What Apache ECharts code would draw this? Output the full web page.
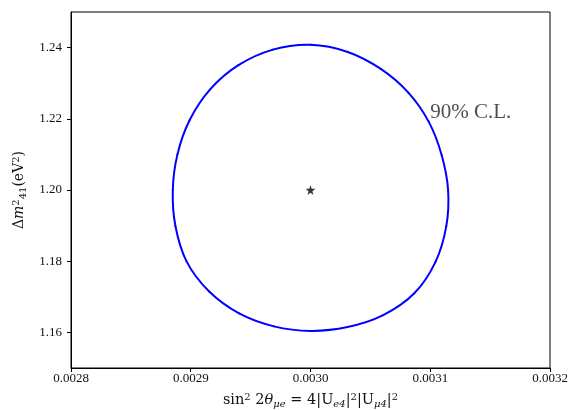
<!DOCTYPE html>
<html>
<head>
<meta charset="utf-8">
<script src="https://cdn.jsdelivr.net/npm/echarts@6/dist/echarts.min.js"></script>
<style>html,body{margin:0;padding:0;background:#fff;}#c{width:574px;height:410px;}</style>
</head>
<body>
<div id="c"></div>
<script>
// 90% C.L. contour, going round from the top
var contourX = [0.0030001, 0.0030311, 0.0030587, 0.0030817, 0.0030988, 0.0031095, 0.0031149, 0.0031134,
  0.0031044, 0.0030867, 0.0030607, 0.0030309, 0.0030001, 0.0029695, 0.0029404, 0.0029152,
  0.0028965, 0.0028872, 0.0028850, 0.0028889, 0.0028990, 0.0029160, 0.0029398, 0.0029686];
var contourY = [1.24079, 1.23878, 1.23401, 1.22736, 1.21913, 1.20984, 1.20001, 1.18984,
  1.17982, 1.17098, 1.16485, 1.16150, 1.16042, 1.16169, 1.16532, 1.17154,
  1.17995, 1.18987, 1.20001, 1.21001, 1.21960, 1.22821, 1.23506, 1.23944];
var bestFitX = [0.0030];
var bestFitY = [1.200];
var labelX = [0.00310];
var labelY = [1.2218];
var labelText = ['90% C.L.'];
var xTicks = [0.0028, 0.0029, 0.0030, 0.0031, 0.0032];
var yTicks = [1.16, 1.18, 1.20, 1.22, 1.24];

var serif = "'Liberation Serif', 'DejaVu Serif', serif";
var wide = "'DejaVu Serif', 'Liberation Serif', serif";
var contourData = contourX.map(function (x, i) { return [x, contourY[i]]; });
var bestData = bestFitX.map(function (x, i) { return [x, bestFitY[i]]; });
var labelData = labelX.map(function (x, i) { return { value: [x, labelY[i]], name: labelText[i] }; });
var star = 'path://M50,0 L61,35 L98,35 L68,57 L79,91 L50,70 L21,91 L32,57 L2,35 L39,35 Z';

// closed smooth curve through the contour points (positions from the axes via api.coord)
function contourItem(params, api) {
  if (params.dataIndex !== 0) { return null; }
  var p = contourX.map(function (x, i) { return api.coord([x, contourY[i]]); });
  var n = p.length, children = [];
  for (var i = 0; i < n; i++) {
    var a = p[(i - 1 + n) % n], b = p[i], c = p[(i + 1) % n], d = p[(i + 2) % n];
    children.push({
      type: 'bezierCurve',
      shape: {
        x1: b[0], y1: b[1], x2: c[0], y2: c[1],
        cpx1: b[0] + (c[0] - a[0]) / 6, cpy1: b[1] + (c[1] - a[1]) / 6,
        cpx2: c[0] - (d[0] - b[0]) / 6, cpy2: c[1] - (d[1] - b[1]) / 6
      },
      style: { fill: null, stroke: '#0000ff', lineWidth: 2, lineCap: 'round' }
    });
  }
  return { type: 'group', children: children };
}

var chart = echarts.init(document.getElementById('c'), null, { renderer: 'canvas' });
chart.setOption({
  animation: false,
  backgroundColor: '#fff',
  grid: { left: 71, right: 24, top: 12, bottom: 42, show: true, borderColor: '#000', borderWidth: 1,
    containLabel: false, outerBoundsMode: 'none' },
  xAxis: {
    type: 'value', min: 0.0028, max: 0.0032,
    axisLine: { show: true, onZero: false, lineStyle: { color: '#000', width: 1 } },
    axisTick: { show: true, length: 4, inside: false, customValues: xTicks, lineStyle: { color: '#000' } },
    axisLabel: { customValues: xTicks, color: '#111', fontFamily: serif, fontSize: 13, margin: 4,
      formatter: function (v) { return v.toFixed(4); } },
    splitLine: { show: false },
    name: '{n|sin}{s|2}{n| 2}{i|θ}{b|μe}{n| = 4|U}{b|e4}{n||}{s|2}{n||U}{b|μ4}{n||}{s|2}',
    nameLocation: 'middle', nameGap: 24,
    nameTextStyle: {
      rich: {
        n: { fontFamily: wide, fontSize: 14.5, color: '#111' },
        i: { fontFamily: wide, fontSize: 14.5, fontStyle: 'italic', color: '#111' },
        s: { fontFamily: wide, fontSize: 10, color: '#111', verticalAlign: 'top', padding: [0, 0, 6, 0] },
        b: { fontFamily: wide, fontSize: 10, fontStyle: 'italic', color: '#111', verticalAlign: 'bottom', padding: [7, 0, 0, 0] }
      }
    }
  },
  yAxis: {
    type: 'value', min: 1.15, max: 1.25,
    axisLine: { show: true, onZero: false, lineStyle: { color: '#000', width: 1 } },
    axisTick: { show: true, length: 4, inside: false, customValues: yTicks, lineStyle: { color: '#000' } },
    axisLabel: { customValues: yTicks, color: '#111', fontFamily: serif, fontSize: 13, margin: 9,
      formatter: function (v) { return v.toFixed(2); } },
    splitLine: { show: false },
    name: '{n|Δ}{i|m}{s|2}{b|41}{n|(eV}{s|2}{n|)}',
    nameLocation: 'middle', nameGap: 40, nameRotate: 90,
    nameTextStyle: {
      rich: {
        n: { fontFamily: wide, fontSize: 14, color: '#111' },
        i: { fontFamily: wide, fontSize: 14, fontStyle: 'italic', color: '#111' },
        s: { fontFamily: wide, fontSize: 10, color: '#111', verticalAlign: 'top', padding: [0, 0, 7, 0] },
        b: { fontFamily: wide, fontSize: 10, color: '#111', verticalAlign: 'bottom', padding: [7, 0, 0, 0] }
      }
    }
  },
  series: [
    {
      type: 'custom', data: contourData, z: 3,
      encode: { x: 0, y: 1 },
      renderItem: contourItem
    },
    {
      type: 'scatter', data: bestData, symbol: star, symbolSize: 10,
      itemStyle: { color: '#000' }, z: 4
    },
    {
      type: 'scatter', data: labelData, symbolSize: 0,
      label: { show: true, position: 'right', distance: 0, formatter: '{b}',
        fontFamily: serif, fontSize: 21, color: '#222' },
      z: 5
    }
  ]
});
</script>
</body>
</html>
